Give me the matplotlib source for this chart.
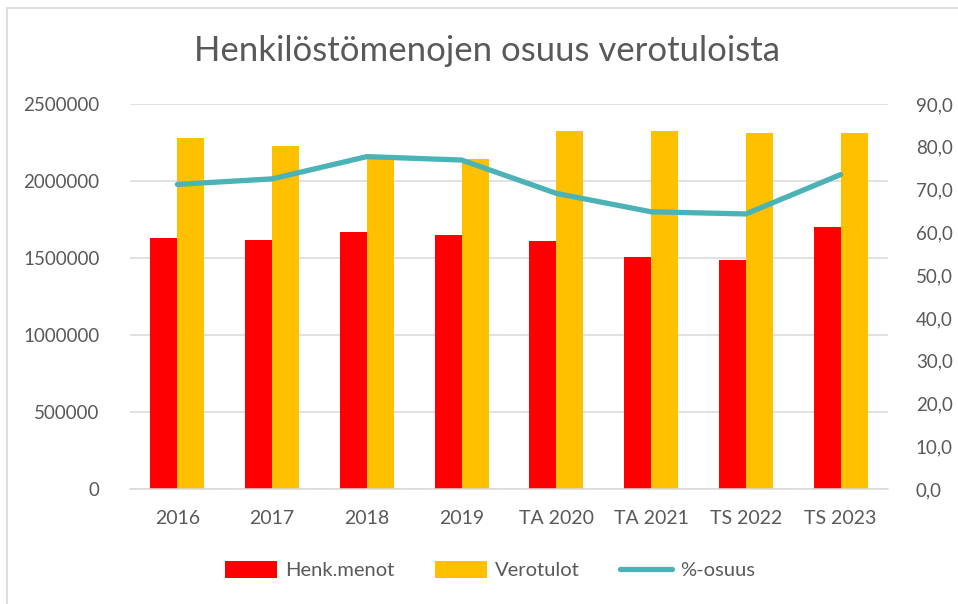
import matplotlib.pyplot as plt
import numpy as np
from matplotlib.lines import Line2D

# Data
vuodet = ['2016', '2017', '2018', '2019', 'TA 2020', 'TA 2021', 'TS 2022', 'TS 2023']
henk_menot = [1628000, 1615000, 1667000, 1649000, 1610000, 1506000, 1485000, 1701000]
verotulot = [2279000, 2227000, 2141000, 2143000, 2327000, 2323000, 2314000, 2314000]
osuus = [71.2, 72.5, 77.7, 76.9, 69.1, 64.8, 64.3, 73.5]

vasen_ticks = [0, 500000, 1000000, 1500000, 2000000, 2500000]
oikea_ticks = [0, 10, 20, 30, 40, 50, 60, 70, 80, 90]

teksti = '#595959'
plt.rcParams['font.family'] = ['Lato', 'DejaVu Sans']

fig = plt.figure(figsize=(9.58, 6.04), dpi=100)
ax = fig.add_axes([130 / 958, 1 - 489 / 604, 758 / 958, 385 / 604])

x = np.arange(len(vuodet))
w = 0.284
ax.bar(x - w / 2, henk_menot, w, color='#FF0000', label='Henk.menot', zorder=2)
ax.bar(x + w / 2, verotulot, w, color='#FFC000', label='Verotulot', zorder=2)

ax.set_xlim(-0.5, len(vuodet) - 0.5)
ax.set_ylim(0, 2500000)
ax.set_yticks(vasen_ticks)
ax.set_yticklabels([str(v) for v in vasen_ticks])
ax.set_xticks(x)
ax.set_xticklabels(vuodet)
ax.grid(axis='y', color='#D9D9D9', linewidth=1.1, zorder=0)
ax.set_axisbelow(True)
for s in ['top', 'right', 'left']:
    ax.spines[s].set_visible(False)
ax.spines['bottom'].set_color('#D9D9D9')
ax.spines['bottom'].set_linewidth(1.1)
ax.tick_params(axis='y', length=0, pad=22, labelsize=13.5, labelcolor=teksti)
ax.tick_params(axis='x', length=0, pad=15, labelsize=14, labelcolor=teksti)

ax2 = ax.twinx()
ax2.plot(x, osuus, color='#4BB3B5', linewidth=3.8, solid_capstyle='round', label='%-osuus', zorder=3)
ax2.set_ylim(0, 90)
ax2.set_yticks(oikea_ticks)
ax2.set_yticklabels([f'{v:.1f}'.replace('.', ',') for v in oikea_ticks])
for s in ['top', 'right', 'left', 'bottom']:
    ax2.spines[s].set_visible(False)
ax2.tick_params(axis='y', length=0, pad=20, labelsize=13.5, labelcolor=teksti)

fig.text(487 / 958, 1 - 51 / 604, 'Henkilöstömenojen osuus verotuloista',
         ha='center', va='center', fontsize=25, color=teksti)

h1, l1 = ax.get_legend_handles_labels()
h2, l2 = ax2.get_legend_handles_labels()
fig.legend(h1 + h2, l1 + l2, loc='center', bbox_to_anchor=(490 / 958, 1 - 570 / 604),
           ncol=3, frameon=False, fontsize=14.5, labelcolor=teksti,
           handlelength=2.6, handleheight=0.9, columnspacing=2.0, handletextpad=0.4)

# kehys
fig.add_artist(Line2D([7 / 958, 7 / 958], [0, 1 - 8 / 604], color='#D9D9D9', linewidth=1.2))
fig.add_artist(Line2D([7 / 958, 1], [1 - 8 / 604, 1 - 8 / 604], color='#D9D9D9', linewidth=1.2))

fig.savefig('out.png', dpi=100)
